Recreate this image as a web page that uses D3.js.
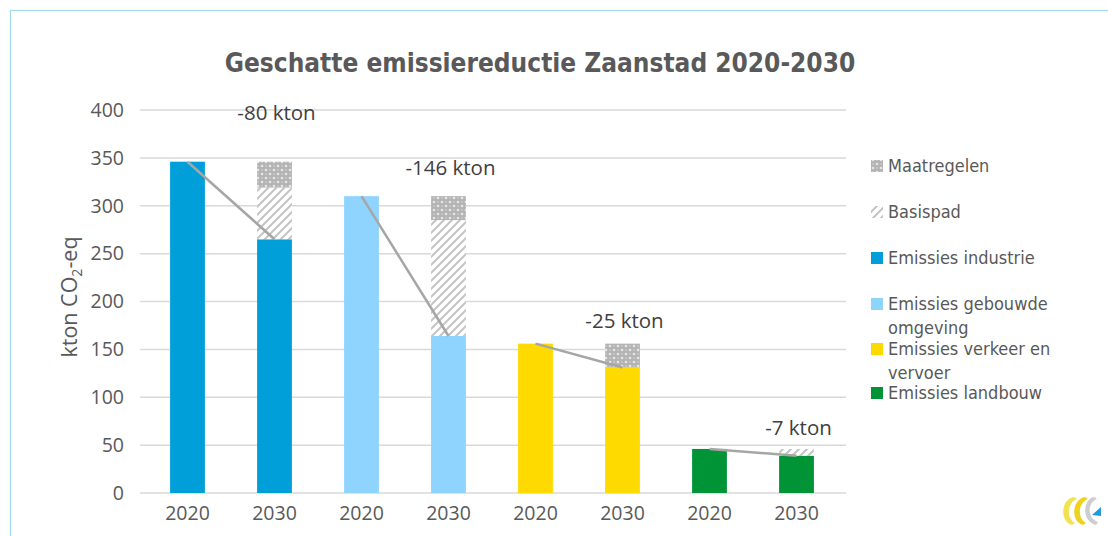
<!DOCTYPE html>
<html><head><meta charset="utf-8">
<script src="https://cdn.jsdelivr.net/npm/d3@7"></script>
<style>body{margin:0;background:#fff}svg{display:block}</style>
</head><body>
<svg id="c" width="1108" height="536"></svg>
<script>
// ---- data ----
const barLabels = ["2020","2030","2020","2030","2020","2030","2020","2030"];
const sectorOfBar = ["industrie","industrie","gebouwde","gebouwde","verkeer","verkeer","landbouw","landbouw"];
const emissies = [346, 265, 310, 164, 156, 131, 46, 39];
const basispad = [0, 54, 0, 121, 0, 0, 0, 7];
const maatregelen = [0, 27, 0, 25, 0, 25, 0, 0];
const reductionLabels = ["-80 kton","-146 kton","-25 kton","-7 kton"];
const reductionLabelValues = [397, 340, 180, 68];
const yTicks = [0,50,100,150,200,250,300,350,400];
const legendNames = ["Maatregelen","Basispad","Emissies industrie","Emissies gebouwde omgeving","Emissies verkeer en vervoer","Emissies landbouw"];
const sectorColors = {industrie:"#009fda", gebouwde:"#8fd3ff", verkeer:"#ffda00", landbouw:"#009436"};

const svg = d3.select("#c");
const font = "'DejaVu Sans Condensed','DejaVu Sans',sans-serif";
const font2 = "'Open Sans','Noto Sans',sans-serif";
const txt = "#595959";

// border
svg.append("rect").attr("x",10.5).attr("y",10.5).attr("width",1200).attr("height",600)
  .attr("fill","none").attr("stroke","#a6d8f5").attr("stroke-width",1.2);

// patterns
const defs = svg.append("defs");
const pm = defs.append("pattern").attr("id","pMaat").attr("patternUnits","userSpaceOnUse").attr("width",8).attr("height",8);
pm.append("rect").attr("width",8).attr("height",8).attr("fill","#b3b3b3");
pm.append("circle").attr("cx",2).attr("cy",2).attr("r",1.3).attr("fill","#e6e6e6");
pm.append("circle").attr("cx",6).attr("cy",6).attr("r",1.3).attr("fill","#e6e6e6");
pm.append("rect").attr("x",5.5).attr("y",1.5).attr("width",1).attr("height",1).attr("fill","#f2f2f2");
pm.append("rect").attr("x",1.5).attr("y",5.5).attr("width",1).attr("height",1).attr("fill","#f2f2f2");
const pb = defs.append("pattern").attr("id","pBasis").attr("patternUnits","userSpaceOnUse").attr("width",8).attr("height",8);
pb.append("rect").attr("width",8).attr("height",8).attr("fill","#ffffff");
pb.append("path").attr("d","M-2,2 L2,-2 M0,8 L8,0 M6,10 L10,6").attr("stroke","#c4c4c4").attr("stroke-width",2);

// scales
const x = d3.scaleBand().domain(d3.range(barLabels.length)).range([144, 840]).paddingInner(0.6).paddingOuter(0.3);
const y = d3.scaleLinear().domain([0,400]).range([493,110]);

// grid
svg.append("g").selectAll("line").data(yTicks).join("line")
  .attr("x1",140).attr("x2",846).attr("y1",d=>y(d)).attr("y2",d=>y(d))
  .attr("stroke","#d9d9d9").attr("stroke-width",1.5);

// y axis
const yAxis = svg.append("g").attr("transform","translate(140,0)")
  .call(d3.axisLeft(y).tickValues(yTicks).tickSize(0).tickPadding(16));
yAxis.select(".domain").remove();
yAxis.selectAll("text").attr("font-family",font2).attr("font-size",19.5).attr("fill",txt);

// x axis
const xAxis = svg.append("g").attr("transform","translate(0,493)")
  .call(d3.axisBottom(x).tickFormat(i=>barLabels[i]).tickSize(0).tickPadding(13));
xAxis.select(".domain").remove();
xAxis.selectAll("text").attr("font-family",font2).attr("font-size",19.5).attr("fill",txt);

// bars
const bars = svg.append("g");
bars.selectAll("rect.em").data(emissies).join("rect").attr("class","em")
  .attr("x",(d,i)=>x(i)).attr("width",x.bandwidth())
  .attr("y",d=>y(d)).attr("height",d=>y(0)-y(d))
  .attr("fill",(d,i)=>sectorColors[sectorOfBar[i]]);
bars.selectAll("rect.bp").data(basispad).join("rect").attr("class","bp")
  .attr("x",(d,i)=>x(i)).attr("width",x.bandwidth())
  .attr("y",(d,i)=>y(emissies[i]+d)).attr("height",(d,i)=>y(emissies[i])-y(emissies[i]+d))
  .attr("fill","url(#pBasis)");
bars.selectAll("rect.mr").data(maatregelen).join("rect").attr("class","mr")
  .attr("x",(d,i)=>x(i)).attr("width",x.bandwidth())
  .attr("y",(d,i)=>y(emissies[i]+basispad[i]+d)).attr("height",(d,i)=>y(emissies[i]+basispad[i])-y(emissies[i]+basispad[i]+d))
  .attr("fill","url(#pMaat)");

// reduction lines and labels
const pairs = d3.range(reductionLabels.length);
const cx = i => x(i)+x.bandwidth()/2;
svg.append("g").selectAll("line").data(pairs).join("line")
  .attr("x1",p=>cx(2*p)).attr("y1",p=>y(emissies[2*p]))
  .attr("x2",p=>cx(2*p+1)).attr("y2",p=>y(emissies[2*p+1]))
  .attr("stroke","#a6a6a6").attr("stroke-width",2.5);
svg.append("g").selectAll("text").data(pairs).join("text")
  .attr("x",p=>cx(2*p+1)+2).attr("y",p=>y(reductionLabelValues[p]))
  .attr("dy","0.35em").attr("text-anchor","middle")
  .attr("font-family",font2).attr("font-size",20.5).attr("fill","#404040")
  .text(p=>reductionLabels[p]);

// title
svg.append("text").attr("x",540).attr("y",72).attr("text-anchor","middle")
  .attr("font-family",font).attr("font-weight","bold").attr("font-size",26).attr("fill",txt)
  .text("Geschatte emissiereductie Zaanstad 2020-2030");

// y title
const yt = svg.append("text").attr("transform","translate(77,297) rotate(-90)").attr("text-anchor","middle")
  .attr("font-family",font2).attr("font-size",21.5).attr("fill",txt);
yt.append("tspan").text("kton CO");
yt.append("tspan").attr("font-size",14).attr("dy",5).text("2");
yt.append("tspan").attr("dy",-5).text("-eq");

// legend
const legendFills = ["url(#pMaat)","url(#pBasis)",sectorColors.industrie,sectorColors.gebouwde,sectorColors.verkeer,sectorColors.landbouw];
const legendLines = [["Maatregelen"],["Basispad"],["Emissies industrie"],["Emissies gebouwde","omgeving"],["Emissies verkeer en","vervoer"],["Emissies landbouw"]];
const legendY = [166, 212, 258, 304, 349, 393];
const lg = svg.append("g").selectAll("g").data(legendNames).join("g")
  .attr("transform",(d,i)=>`translate(871,${legendY[i]})`);
lg.append("rect").attr("x",0).attr("y",-6).attr("width",12).attr("height",12).attr("fill",(d,i)=>legendFills[i]);
lg.append("text").attr("x",17).attr("y",0)
  .attr("font-family",font).attr("font-size",18).attr("fill",txt)
  .each(function(d,i){
    const t=d3.select(this);
    legendLines[i].forEach((s,k)=>t.append("tspan").attr("x",17).attr("dy",k===0?"0.35em":"1.3em").text(s));
  });

// logo
const logo = svg.append("g").attr("transform","translate(1058,494)");
logo.append("path").attr("d","M16,3 C3,5 1,27 14,31 L17,29 C8,24 9,9 19,5 Z").attr("fill","#f3e250");
logo.append("path").attr("d","M27,3 C14,5 12,27 25,31 L28,29 C19,24 20,9 30,5 Z").attr("fill","#efd21e");
logo.append("path").attr("d","M36,3 C25,5 23,27 38,31 L40,28 C29,24 29,9 39,5 Z").attr("fill","#cdcdcd");
logo.append("path").attr("d","M34,21 L43,13 L43,22 Z").attr("fill","#1e9be0");
</script>
</body></html>
